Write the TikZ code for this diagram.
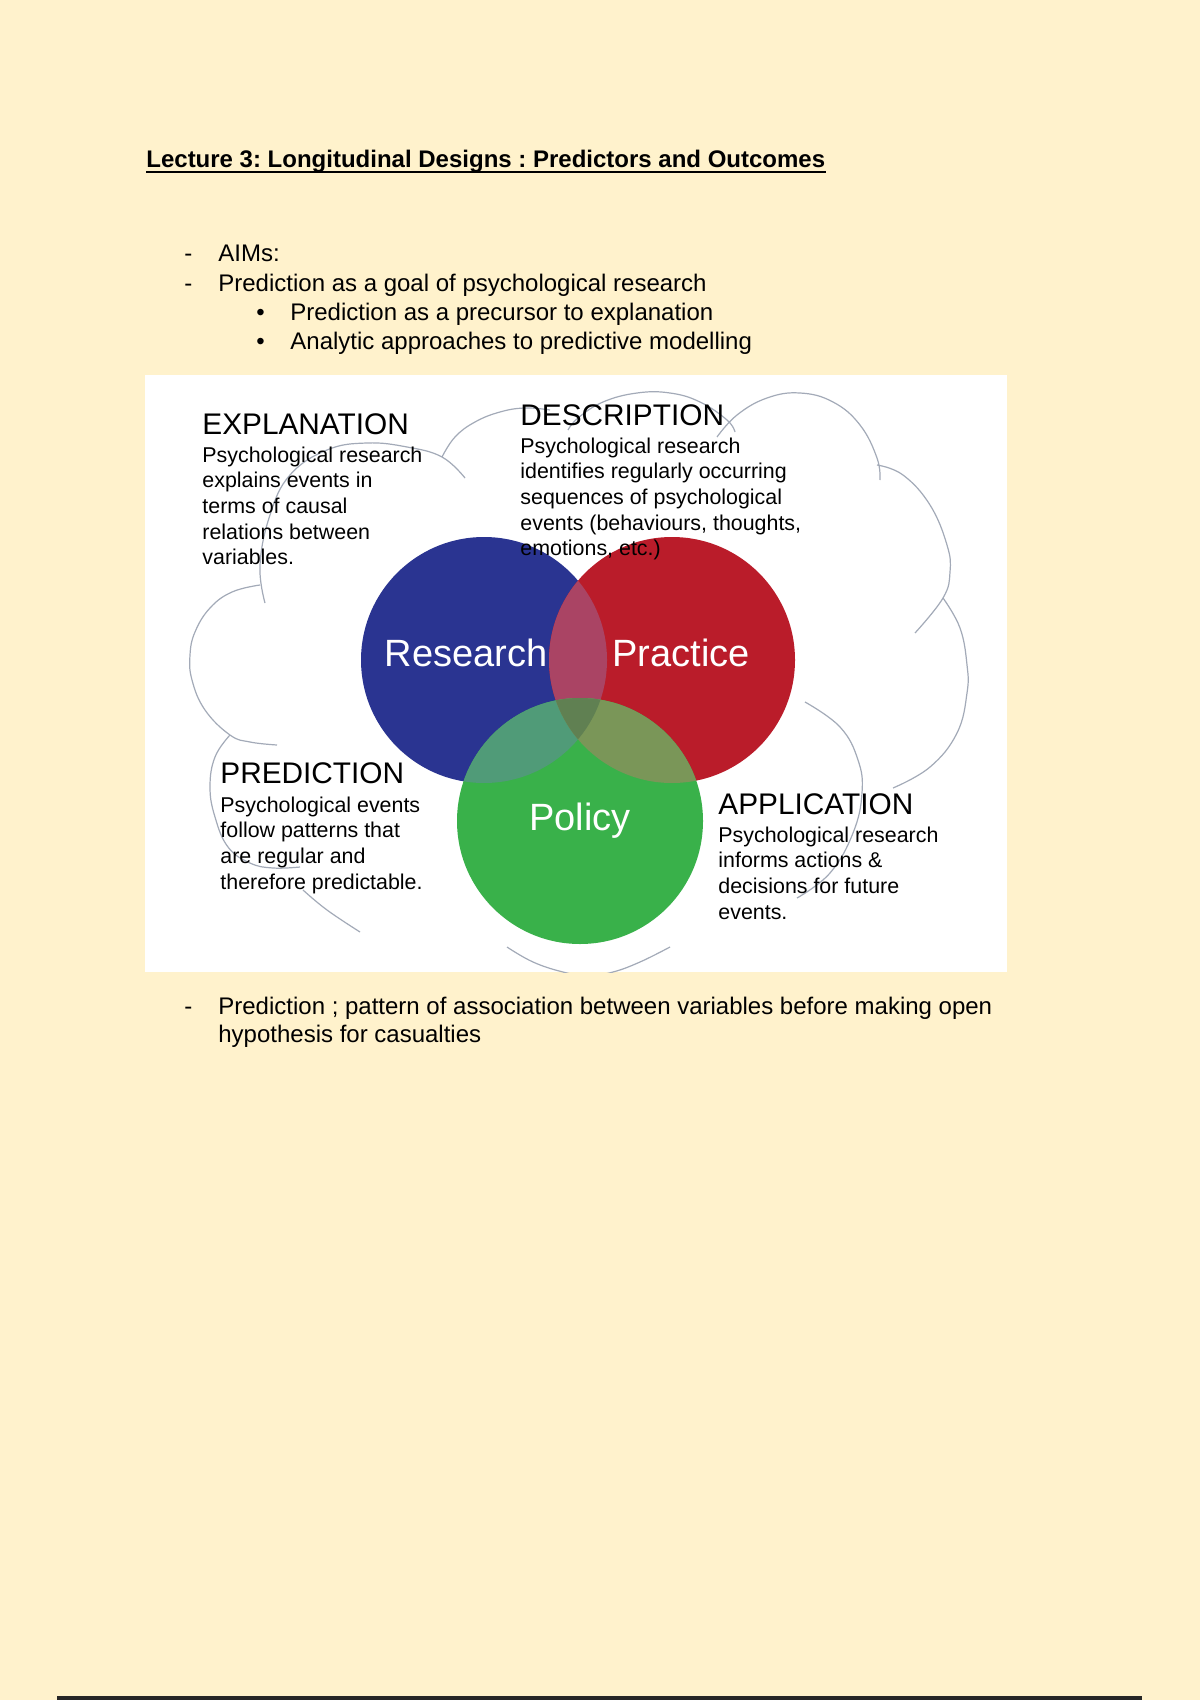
\documentclass[tikz,border=0pt]{standalone}
\usepackage{fontspec}
\setmainfont{Liberation Sans}
\frenchspacing

\definecolor{pagebg}{HTML}{FFF2CC}
\definecolor{cloudgray}{HTML}{A3AAB8}
\definecolor{vblue}{HTML}{2A3491}
\definecolor{vred}{HTML}{BA1C2A}
\definecolor{vgreen}{HTML}{39B14A}
\definecolor{vbluered}{HTML}{AA4464}
\definecolor{vbluegreen}{HTML}{509B78}
\definecolor{vredgreen}{HTML}{7A9658}
\definecolor{vcentre}{HTML}{608052}

\newcommand{\textlines}[1]{\begin{tabular}[t]{@{}l@{}}#1\end{tabular}}

\tikzset{
    pagetext/.style={anchor=base west, inner sep=0pt, font=\fontsize{12}{14}\selectfont},
    titletext/.style={anchor=base west, inner sep=0pt, font=\fontsize{12}{14}\selectfont\bfseries},
    headtext/.style={anchor=base west, inner sep=0pt, font=\fontsize{14.9}{17}\selectfont},
    smalltext/.style={anchor=base west, inner sep=0pt, font=\fontsize{10.7}{12.85}\selectfont},
    venntext/.style={anchor=base, inner sep=0pt, text=white, font=\fontsize{19}{22}\selectfont},
    cloudline/.style={draw=cloudgray, line width=0.6pt},
}

\begin{document}
\begin{tikzpicture}[x=0.5pt, y=-0.5pt]
        % Page
        \useasboundingbox (0, 0) rectangle (1200, 1700);
        \fill[pagebg] (0, 0) rectangle (1200, 1700);

        % Heading and aims
        \node[titletext] (title) at (146, 168) {Lecture 3: Longitudinal Designs : Predictors and Outcomes};
        \draw[line width=1pt] ([yshift=-1.9pt]title.base west) -- ([yshift=-1.9pt]title.base east);

        \node[pagetext] (dashA) at (184, 262) {-};
        \node[pagetext] (aims) at (218, 262) {AIMs:};
        \node[pagetext] (dashB) at (184, 291.5) {-};
        \node[pagetext] (goal) at (218, 291.5) {Prediction as a goal of psychological research};
        \node[pagetext] (dotA) at (256, 321) {\textbullet};
        \node[pagetext] (precursor) at (290, 321) {Prediction as a precursor to explanation};
        \node[pagetext] (dotB) at (256, 350) {\textbullet};
        \node[pagetext] (analytic) at (290, 350) {Analytic approaches to predictive modelling};

        % White picture area
        \fill[white] (145, 375) rectangle (1007, 972);

        % Cloud outline
        \begin{scope}
            \clip (145, 375) rectangle (1007, 972);
            \draw[cloudline] plot[smooth, tension=0.7] coordinates {(265,603) (260,565) (270,515) (290,475) (327,450) (367,443) (407,447) (442,457) (465,478)};
            \draw[cloudline] plot[smooth, tension=0.7] coordinates {(442,457) (455,437) (475,422) (500,412) (525,408) (550,410)};
            \draw[cloudline] plot[smooth, tension=0.7] coordinates {(568,430) (578,418) (603,402) (637,393) (670,393) (700,402) (727,420) (735,432)};
            \draw[cloudline] plot[smooth, tension=0.7] coordinates {(717,437) (737,415) (767,398) (800,393) (833,402) (860,425) (877,458) (880,480)};
            \draw[cloudline] plot[smooth, tension=0.7] coordinates {(877,465) (903,475) (930,505) (947,545) (950,572) (943,598) (915,633)};
            \draw[cloudline] plot[smooth, tension=0.7] coordinates {(943,598) (960,628) (967,665) (967,693) (957,733) (930,767) (893,788)};
            \draw[cloudline] plot[smooth, tension=0.7] coordinates {(805,702) (840,727) (858,760) (862,793) (853,833) (830,873) (797,898)};
            \draw[cloudline] plot[smooth, tension=0.7] coordinates {(507,947) (533,962) (563,972) (588,976) (613,972) (640,962) (670,947)};
            \draw[cloudline] plot[smooth, tension=0.7] coordinates {(303,890) (327,910) (360,932)};
            \draw[cloudline] plot[smooth, tension=0.7] coordinates {(230,735) (215,757) (210,787) (215,817) (228,847) (250,863) (273,868) (300,867)};
            \draw[cloudline] plot[smooth, tension=0.7] coordinates {(260,585) (232,592) (210,608) (195,632) (190,655) (192,680) (205,710) (230,735) (250,742) (277,745)};
        \end{scope}

        % Venn circles
        \coordinate (research) at (484, 660);
        \coordinate (practice) at (672, 660);
        \coordinate (policy) at (580, 821);

        \fill[vblue] (research) circle[radius=61.5pt];
        \fill[vred] (practice) circle[radius=61.5pt];
        \fill[vgreen] (policy) circle[radius=61.5pt];

        % Overlaps of the circles
        \begin{scope}
            \clip (research) circle[radius=61.5pt];
            \fill[vbluered] (practice) circle[radius=61.5pt];
            \fill[vbluegreen] (policy) circle[radius=61.5pt];
        \end{scope}
        \begin{scope}
            \clip (practice) circle[radius=61.5pt];
            \fill[vredgreen] (policy) circle[radius=61.5pt];
        \end{scope}
        \begin{scope}
            \clip (research) circle[radius=61.5pt];
            \clip (practice) circle[radius=61.5pt];
            \fill[vcentre] (policy) circle[radius=61.5pt];
        \end{scope}

        \node[venntext] (researchlabel) at (466, 666) {Research};
        \node[venntext] (practicelabel) at (681, 666) {Practice};
        \node[venntext] (policylabel) at (580, 830) {Policy};

        % Four goals round the circles
        \node[headtext] (explhead) at (202, 435) {EXPLANATION};
        \node[smalltext] (explbody) at (202, 462) {\textlines{Psychological research\\explains events in\\terms of causal\\relations between\\variables.}};

        \node[headtext] (deschead) at (520, 425) {DESCRIPTION};
        \node[smalltext] (descbody) at (520, 453) {\textlines{Psychological research\\identifies regularly occurring\\sequences of psychological\\events (behaviours, thoughts,\\emotions, etc.)}};

        \node[headtext] (predhead) at (220, 783) {PREDICTION};
        \node[smalltext] (predbody) at (220, 812) {\textlines{Psychological events\\follow patterns that\\are regular and\\therefore predictable.}};

        \node[headtext] (applhead) at (718, 814) {APPLICATION};
        \node[smalltext] (applbody) at (718, 842) {\textlines{Psychological research\\informs actions \&\\decisions for future\\events.}};

        % Note under the picture
        \node[pagetext] (dashC) at (184, 1014) {-};
        \node[pagetext] (note) at (218, 1014) {\textlines{Prediction ; pattern of association between variables before making open\\hypothesis for casualties}};

        % Rule at the foot of the page
        \fill[black!85] (57, 1696) rectangle (1142, 1700);
    \end{tikzpicture}
\end{document}
